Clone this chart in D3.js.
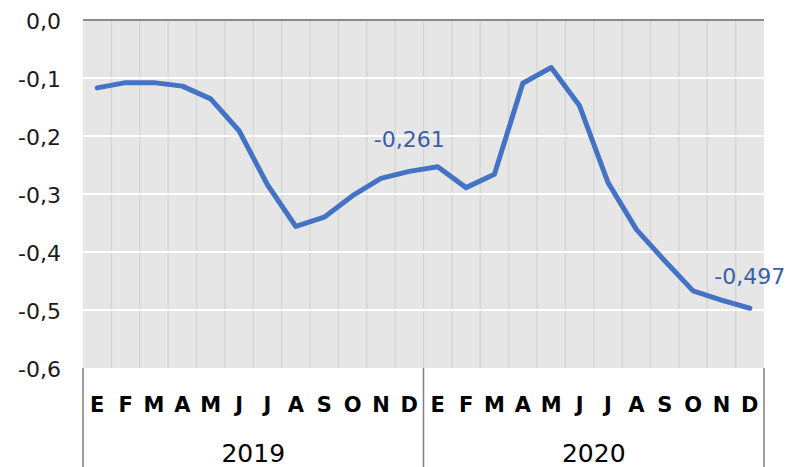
<!DOCTYPE html>
<html>
<head>
<meta charset="utf-8">
<script src="https://cdn.jsdelivr.net/npm/d3@7.9.0/dist/d3.min.js"></script>
<style>
  body { margin: 0; background: #fff; }
  svg { display: block; font-family: "DejaVu Sans", sans-serif; }
</style>
</head>
<body>
<div id="chart"></div>
<script>
// data
const years = ['2019', '2020'];
const months = ['E', 'F', 'M', 'A', 'M', 'J', 'J', 'A', 'S', 'O', 'N', 'D'];
const values2019 = [-0.117, -0.108, -0.108, -0.114, -0.136, -0.191, -0.284, -0.356, -0.340, -0.303, -0.273, -0.261];
const values2020 = [-0.253, -0.289, -0.266, -0.109, -0.082, -0.148, -0.280, -0.361, -0.415, -0.467, -0.483, -0.497];
const yTicks = [0, -0.1, -0.2, -0.3, -0.4, -0.5, -0.6];
const labelled = [{ year: '2019', month: 11, text: '-0,261' }, { year: '2020', month: 11, text: '-0,497' }];

const width = 787, height = 467;
const margin = { top: 20, right: 23, bottom: 99, left: 83 };

// one row per month
const points = [];
years.forEach((yr, yi) => {
  const vals = yi === 0 ? values2019 : values2020;
  months.forEach((m, mi) => points.push({ key: yr + '-' + mi, year: yr, month: mi, label: m, value: vals[mi] }));
});

const svg = d3.select('#chart').append('svg')
  .attr('width', width)
  .attr('height', height);

const x = d3.scaleBand()
  .domain(points.map(d => d.key))
  .range([margin.left, width - margin.right])
  .padding(0);

const y = d3.scaleLinear()
  .domain([-0.6, 0])
  .range([height - margin.bottom, margin.top]);

const fmt = v => d3.format('.1f')(v).replace('.', ',').replace('−', '-');

// plot background
svg.append('rect')
  .attr('x', margin.left)
  .attr('y', margin.top)
  .attr('width', x.range()[1] - margin.left)
  .attr('height', y(-0.6) - margin.top)
  .attr('fill', '#e6e6e6');

// vertical gridlines between months
svg.append('g')
  .selectAll('line')
  .data(points.slice(1))
  .join('line')
  .attr('x1', d => x(d.key)).attr('x2', d => x(d.key))
  .attr('y1', margin.top).attr('y2', y(-0.6))
  .attr('stroke', '#d6d6d6')
  .attr('stroke-width', 1.5);

// horizontal gridlines
svg.append('g')
  .selectAll('line')
  .data(yTicks.filter(t => t < 0 && t > -0.6))
  .join('line')
  .attr('x1', margin.left).attr('x2', x.range()[1])
  .attr('y1', d => y(d)).attr('y2', d => y(d))
  .attr('stroke', '#ffffff')
  .attr('stroke-width', 2);

// zero line (category axis crosses at 0)
svg.append('line')
  .attr('x1', margin.left).attr('x2', x.range()[1])
  .attr('y1', y(0)).attr('y2', y(0))
  .attr('stroke', '#8a8a8a')
  .attr('stroke-width', 2);

// y axis labels
const yAxis = svg.append('g')
  .attr('transform', `translate(${margin.left - 22},0)`)
  .call(d3.axisLeft(y).tickValues(yTicks).tickSize(0).tickPadding(0).tickFormat(fmt));
yAxis.select('.domain').remove();
yAxis.selectAll('text')
  .attr('font-family', '"DejaVu Sans", sans-serif')
  .attr('font-size', 22)
  .attr('fill', '#1a1a1a')
  .attr('dy', '0.38em');

// line
const line = d3.line()
  .x(d => x(d.key) + x.bandwidth() / 2)
  .y(d => y(d.value));

svg.append('path')
  .datum(points)
  .attr('d', line)
  .attr('fill', 'none')
  .attr('stroke', '#4472c4')
  .attr('stroke-width', 5)
  .attr('stroke-linejoin', 'round')
  .attr('stroke-linecap', 'round');

// data labels
svg.append('g')
  .selectAll('text')
  .data(labelled)
  .join('text')
  .attr('x', d => x(d.year + '-' + d.month) + x.bandwidth() / 2)
  .attr('y', d => y(points.find(p => p.year === d.year && p.month === d.month).value) - 24)
  .attr('text-anchor', 'middle')
  .attr('font-size', 22)
  .attr('fill', '#3a5ea8')
  .text(d => d.text);

// month labels
svg.append('g')
  .selectAll('text')
  .data(points)
  .join('text')
  .attr('x', d => x(d.key) + x.bandwidth() / 2)
  .attr('y', 412)
  .attr('text-anchor', 'middle')
  .attr('font-size', 21)
  .attr('font-weight', 'bold')
  .attr('fill', '#000')
  .text(d => d.label);

// year groups
const yearStart = yr => x(yr + '-0');
const yearEnd = yr => x(yr + '-11') + x.bandwidth();

svg.append('g')
  .selectAll('line')
  .data([yearStart(years[0]), ...years.map(yearEnd)])
  .join('line')
  .attr('x1', d => d).attr('x2', d => d)
  .attr('y1', y(-0.6)).attr('y2', height)
  .attr('stroke', '#7f7f7f')
  .attr('stroke-width', 1.5);

svg.append('g')
  .selectAll('text')
  .data(years)
  .join('text')
  .attr('x', d => (yearStart(d) + yearEnd(d)) / 2)
  .attr('y', 462)
  .attr('text-anchor', 'middle')
  .attr('font-size', 25)
  .attr('fill', '#000')
  .text(d => d);
</script>
</body>
</html>
